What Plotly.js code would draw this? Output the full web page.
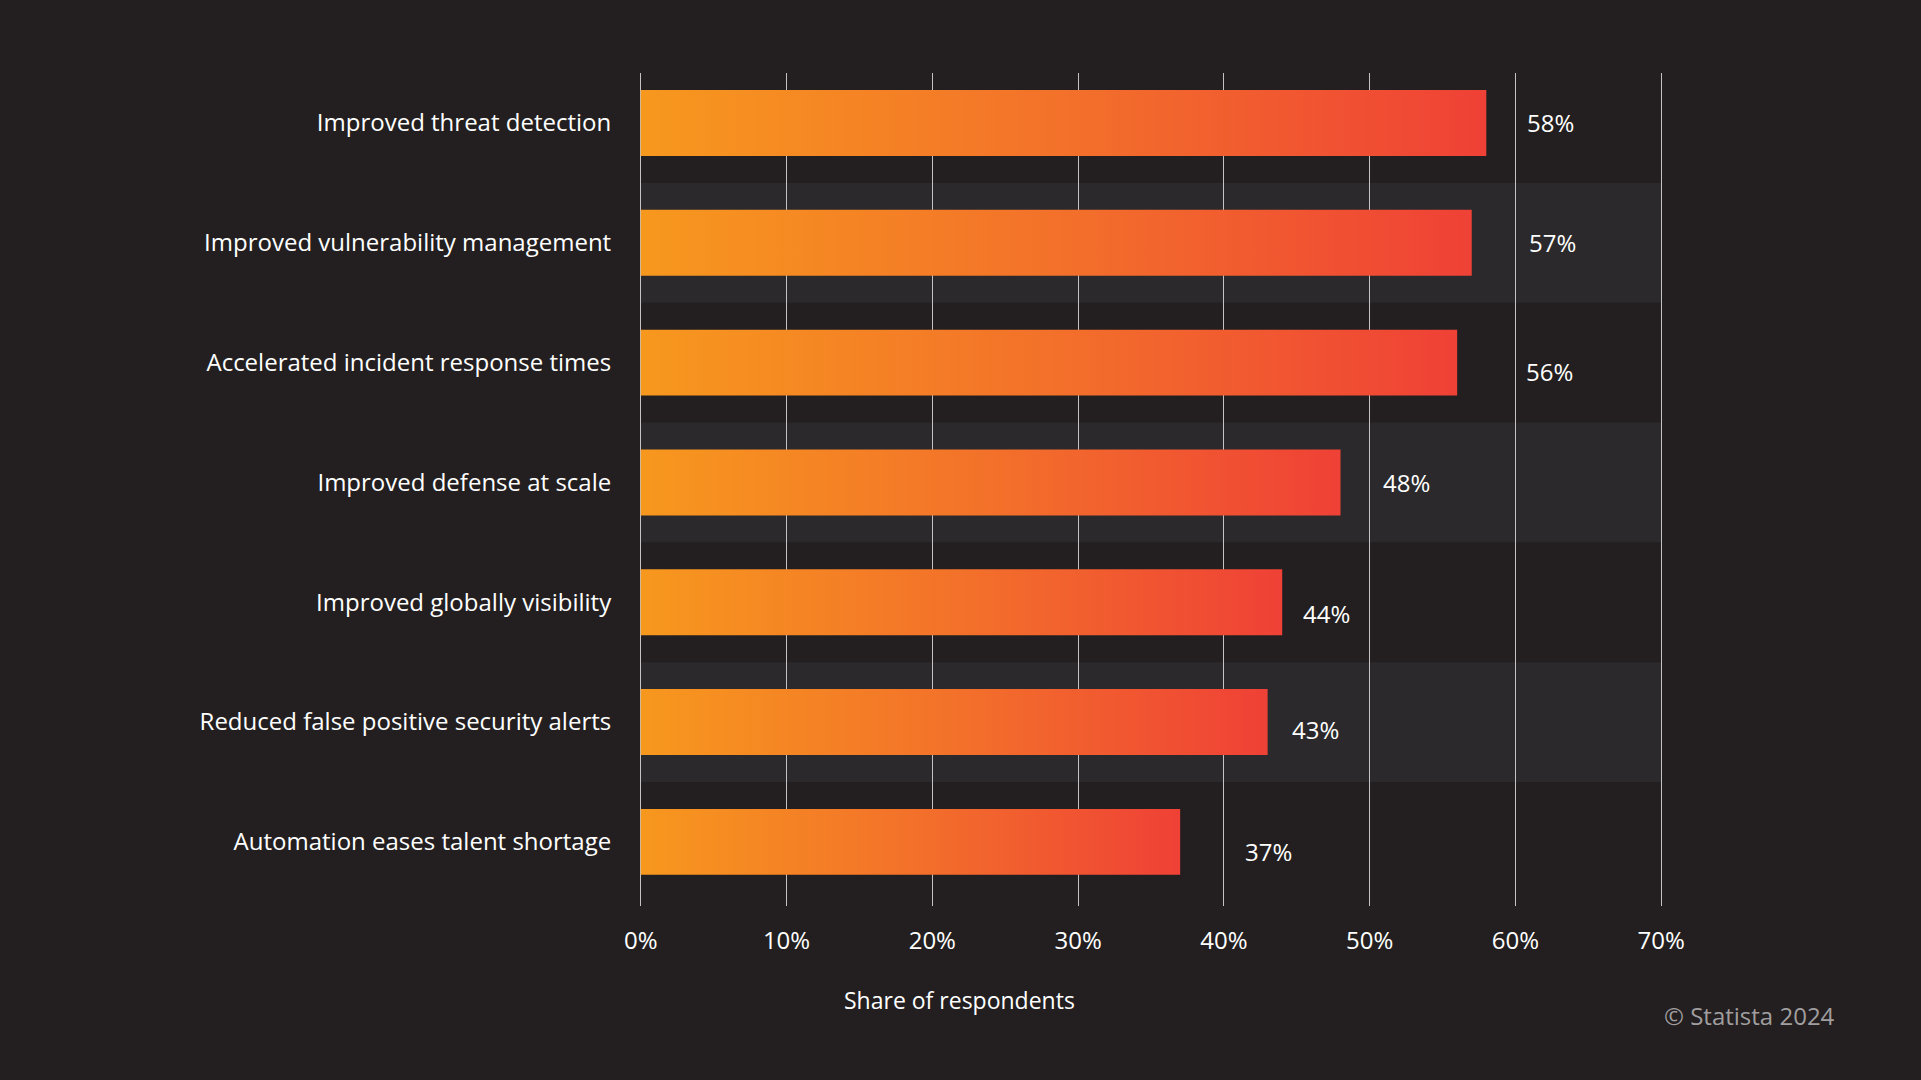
<!DOCTYPE html>
<html>
<head>
<meta charset="utf-8">
<script src="https://cdn.plot.ly/plotly-3.0.1.min.js"></script>
<style>
  html, body { margin: 0; padding: 0; background: #231f20; }
  #chart { width: 1921px; height: 1080px; }
</style>
</head>
<body>
<div id="chart"></div>
<script>
const categories = [
  "Improved threat detection",
  "Improved vulnerability management",
  "Accelerated incident response times",
  "Improved defense at scale",
  "Improved globally visibility",
  "Reduced false positive security alerts",
  "Automation eases talent shortage"
];
const values = [58, 57, 56, 48, 44, 43, 37];
const tickValues = [0, 10, 20, 30, 40, 50, 60, 70];
const tickLabels = ["0%", "10%", "20%", "30%", "40%", "50%", "60%", "70%"];
const axisTitle = "Share of respondents";
const sourceText = "© Statista 2024";

// label placement (layout only, pixels)
const labelXShift = [39, 55, 67, 40, 19, 22, 63];
const labelYShift = [0, 0, -9, 0, -11, -7, -10];

const FONT = "Open Sans, Noto Sans, sans-serif";
const BG = "#231f20";
const BAND = "#2b292b";

const trace = {
  type: "bar",
  orientation: "h",
  x: values,
  y: categories,
  width: 0.55,
  marker: { color: "#f36b2c", line: { width: 0 } },
  hoverinfo: "skip"
};

const shapes = [];
categories.forEach((c, i) => {
  if (i % 2 === 1) {
    shapes.push({
      type: "rect", layer: "below", xref: "x", yref: "y",
      x0: 0, x1: 70, y0: i - 0.5, y1: i + 0.5,
      fillcolor: BAND, line: { width: 0 }
    });
  }
});

const annotations = values.map((v, i) => ({
  x: v, y: categories[i], xref: "x", yref: "y",
  text: v + "%", showarrow: false, xanchor: "left",
  xshift: labelXShift[i], yshift: labelYShift[i],
  font: { family: FONT, size: 24, color: "#ffffff" }
}));
annotations.push({
  xref: "paper", yref: "paper", x: 0.313, y: -0.113, xanchor: "center", yanchor: "middle",
  text: axisTitle, showarrow: false,
  font: { family: FONT, size: 23, color: "#ffffff" }
});
annotations.push({
  xref: "paper", yref: "paper", x: 1.17, y: -0.131, xanchor: "right", yanchor: "middle",
  text: sourceText, showarrow: false,
  font: { family: FONT, size: 24, color: "#a09e9f" }
});

const layout = {
  width: 1921, height: 1080,
  paper_bgcolor: BG, plot_bgcolor: BG,
  margin: { l: 639, r: 258, t: 73, b: 174 },
  showlegend: false,
  font: { family: FONT, color: "#ffffff", size: 24 },
  xaxis: {
    range: [-0.12, 70.12], tickvals: tickValues, ticktext: tickLabels,
    showgrid: true, gridcolor: "#c4c2c3", gridwidth: 1,
    zeroline: false, showline: false,
    ticks: "outside", ticklen: 13, tickcolor: "rgba(0,0,0,0)",
    tickfont: { family: FONT, size: 24, color: "#ffffff" },
    fixedrange: true
  },
  yaxis: {
    type: "category", categoryorder: "array", categoryarray: categories,
    range: [6.535, -0.417], showgrid: false, zeroline: false, showline: false,
    ticks: "outside", ticklen: 22, tickcolor: "rgba(0,0,0,0)",
    tickfont: { family: FONT, size: 24, color: "#ffffff" },
    fixedrange: true
  },
  shapes: shapes,
  annotations: annotations
};

Plotly.newPlot("chart", [trace], layout, { displayModeBar: false, staticPlot: true }).then(gd => {
  const svg = gd.querySelector(".main-svg");
  const ns = "http://www.w3.org/2000/svg";
  let defs = svg.querySelector("defs");
  if (!defs) { defs = document.createElementNS(ns, "defs"); svg.insertBefore(defs, svg.firstChild); }
  const grad = document.createElementNS(ns, "linearGradient");
  grad.setAttribute("id", "barGrad");
  grad.setAttribute("x1", "0"); grad.setAttribute("y1", "0");
  grad.setAttribute("x2", "1"); grad.setAttribute("y2", "0");
  [["0%", "#f7981e"], ["50%", "#f3712a"], ["100%", "#ef4136"]].forEach(([o, c]) => {
    const s = document.createElementNS(ns, "stop");
    s.setAttribute("offset", o); s.setAttribute("stop-color", c);
    grad.appendChild(s);
  });
  defs.appendChild(grad);
  gd.querySelectorAll(".trace.bars .point path").forEach(p => {
    p.style.setProperty("fill", "url(#barGrad)");
  });
});
</script>
</body>
</html>
